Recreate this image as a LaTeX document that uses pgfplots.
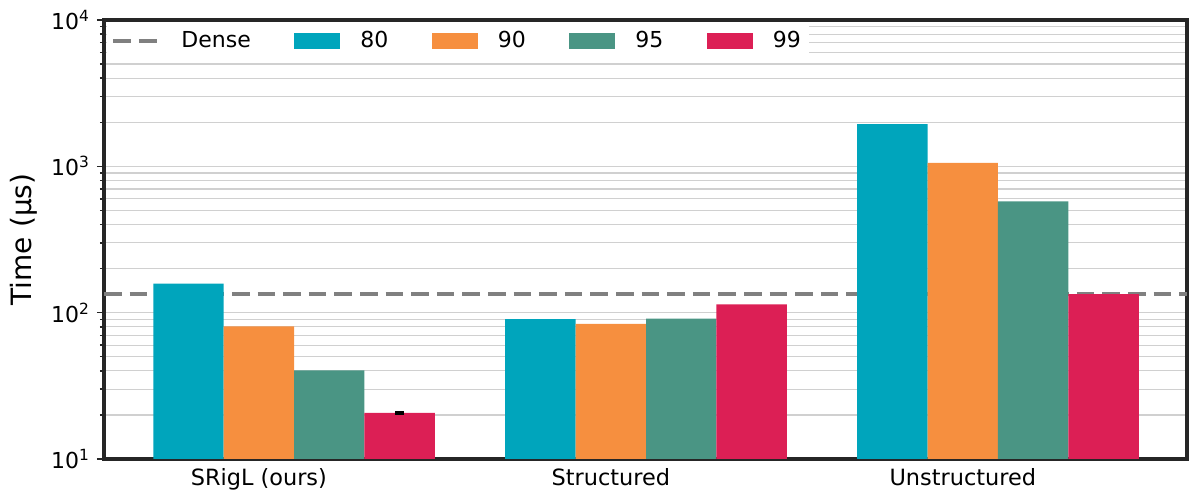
\documentclass[border=0pt]{standalone}
\usepackage{fontspec}
\setmainfont{DejaVu Sans}
\usepackage{pgfplots}
\pgfplotsset{compat=1.18}

\definecolor{c80}{HTML}{00A5BC}
\definecolor{c90}{HTML}{F68F3F}
\definecolor{c95}{HTML}{4A9584}
\definecolor{c99}{HTML}{DC1F55}
\definecolor{frame}{HTML}{262626}
\definecolor{gridc}{HTML}{D0D0D0}
\definecolor{dense}{HTML}{808080}

\pgfplotsset{
  barleg/.style={legend image code/.code={\fill[##1] (0pt,-4pt) rectangle (23pt,4pt);}},
  lineleg/.style={legend image code/.code={\draw[##1] (0pt,0pt) -- (23pt,0pt);}},
}

\begin{document}
\begin{tikzpicture}
\begin{axis}[
  name=ax,
  scale only axis, width=541.5pt, height=219.5pt,
  ymode=log, ymin=10, ymax=10000,
  xmin=-0.54, xmax=2.537,
  ytick={10,100,1000,10000},
  yticklabels={10\textsuperscript{1},10\textsuperscript{2},10\textsuperscript{3},10\textsuperscript{4}},
  xtick={-0.1,0.9,1.9},
  xticklabels={SRigL (ours),Structured,Unstructured},
  xtick style={draw=none},
  ytick pos=left, tick align=outside,
  major tick length=3.5pt, minor tick length=2pt,
  every tick/.style={frame, line width=0.75pt},
  ymajorgrids, yminorgrids,
  major grid style={gridc, line width=0.6pt},
  minor grid style={gridc, line width=0.6pt},
  axis line style={frame, line width=1.6pt},
  yticklabel style={font=\fontsize{11}{13}\selectfont},
  xticklabel style={font=\fontsize{11.2}{13}\selectfont, yshift=2.5pt},
  ylabel={Time (µs)},
  ylabel style={font=\fontsize{14}{16}\selectfont, at={(axis description cs:-0.0739,0.5)}, anchor=center},
  legend columns=5,
  legend style={at={(0,1)}, anchor=west, xshift=1.5pt, yshift=-10.5pt,
    draw=none, fill=white, inner sep=2pt,
    font=\fontsize{11}{13}\selectfont,
    /tikz/every odd column/.append style={column sep=8pt},
    /tikz/every even column/.append style={column sep=19.75pt}},
]
\addplot[dense, line width=2pt, dash pattern=on 8.8pt off 4pt, lineleg]
  coordinates {(-0.54,135) (2.537,135)};
\addlegendentry{Dense}

\addplot[ybar, bar width=0.2, bar shift=-0.3, fill=c80, draw=none, barleg]
  coordinates {(0,158) (1,90.5) (2,1946)};
\addlegendentry{80}
\addplot[ybar, bar width=0.2, bar shift=-0.1, fill=c90, draw=none, barleg]
  coordinates {(0,80.7) (1,83.7) (2,1054)};
\addlegendentry{90}
\addplot[ybar, bar width=0.2, bar shift=0.1, fill=c95, draw=none, barleg]
  coordinates {(0,40.4) (1,91) (2,577)};
\addlegendentry{95}
\addplot[ybar, bar width=0.2, bar shift=0.3, fill=c99, draw=none, barleg]
  coordinates {(0,20.7) (1,114) (2,134)};
\addlegendentry{99}

% small error bar on the SRigL 99 bar
\addplot[draw=none, forget plot,
  error bars/.cd, y dir=both, y explicit,
  error bar style={draw=black, line width=0.9pt},
  error mark options={draw=black, line width=0.9pt, mark size=2.25pt, rotate=90}]
  coordinates {(0.3,20.7) +- (0,0.3)};
\end{axis}
\pgfresetboundingbox
\path[use as bounding box] (ax.south west) ++(-52pt,-21.5pt) rectangle ++(600pt,251pt);
\end{tikzpicture}
\end{document}
